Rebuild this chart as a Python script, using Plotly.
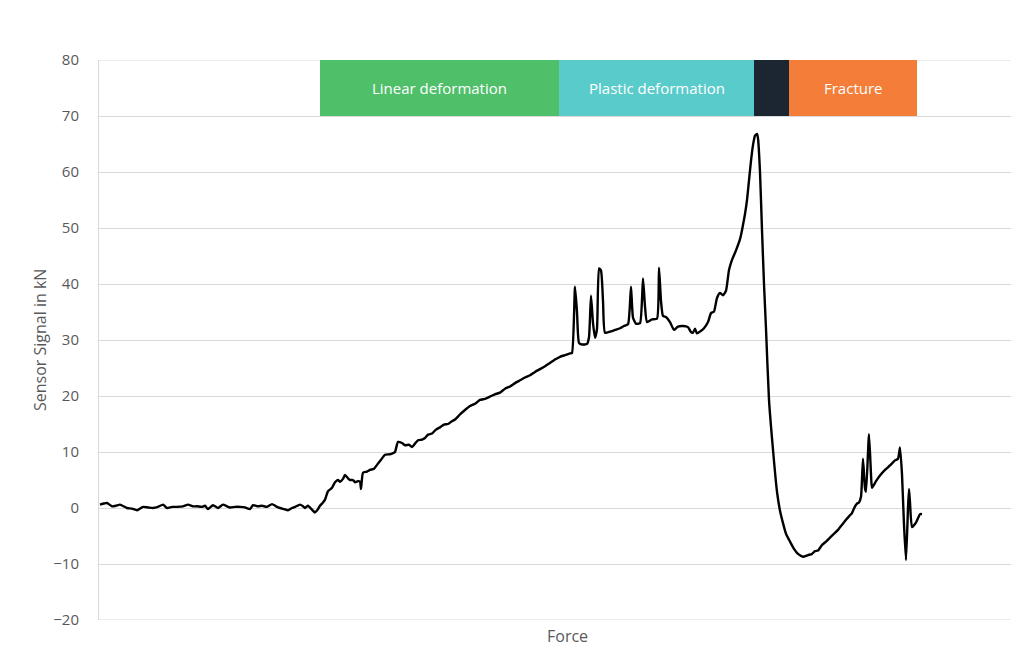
import plotly.graph_objects as go

# Force (arbitrary units) and sensor signal (kN)
force = [
    0, 4, 7, 12, 16, 20, 27, 32, 37, 43,
    48, 53, 58, 63, 67, 72, 77, 83, 88, 93,
    97, 102, 105, 108, 113, 118, 123, 127, 130, 135,
    140, 145, 150, 153, 158, 162, 167, 172, 176, 180,
    184, 188, 192, 195, 200, 203, 205, 208, 212, 215,
    218, 220, 223, 225, 228, 232, 235, 238, 240, 243,
    245, 248, 250, 253, 255, 258, 260, 261, 263, 267,
    270, 274, 277, 281, 285, 290, 293, 295, 298, 302,
    305, 309, 312, 315, 318, 322, 325, 328, 332, 336,
    340, 344, 348, 352, 355, 360, 365, 370, 375, 380,
    385, 390, 395, 400, 405, 410, 415, 420, 425, 430,
    435, 440, 445, 450, 455, 460, 465, 470, 472, 475,
    477, 479, 482, 487, 489, 491, 493, 495, 497, 499,
    501, 503, 505, 510, 515, 520, 524, 528, 531, 533,
    536, 540, 543, 545, 547, 552, 557, 559, 561, 563,
    566, 570, 574, 578, 583, 588, 591, 593, 595, 597,
    600, 604, 608, 611, 614, 617, 620, 623, 626, 629,
    632, 636, 640, 642, 645, 647, 649, 651, 653, 655,
    657, 658, 660, 662, 664, 666, 669, 673, 677, 680,
    683, 686, 690, 694, 698, 703, 708, 712, 715, 718,
    722, 726, 730, 734, 738, 742, 746, 750, 752, 755,
    757, 759, 761, 763, 765, 766, 769, 771, 772, 776,
    780, 785, 790, 795, 798, 800, 802, 804, 806, 808,
    809, 810, 812, 816, 820, 822,
]
signal = [
    0.6, 0.8, 0.9, 0.3, 0.4, 0.6, 0.0, -0.1, -0.4, 0.2,
    0.1, 0.0, 0.2, 0.6, 0.0, 0.2, 0.2, 0.3, 0.6, 0.3,
    0.3, 0.2, 0.4, -0.2, 0.5, 0.0, 0.6, 0.3, 0.1, 0.2,
    0.2, 0.1, -0.2, 0.5, 0.3, 0.4, 0.2, 0.7, 0.3, 0.0,
    -0.2, -0.4, 0.0, 0.2, 0.6, 0.3, 0.0, 0.4, -0.3, -0.8,
    -0.2, 0.4, 1.0, 1.5, 3.0, 3.6, 4.6, 5.0, 4.7, 5.2,
    5.9, 5.3, 5.0, 5.0, 4.6, 4.8, 4.7, 3.4, 6.3, 6.5,
    6.8, 7.0, 7.7, 8.6, 9.5, 9.6, 9.8, 10.0, 11.8, 11.6,
    11.2, 11.3, 10.9, 11.5, 12.1, 12.2, 12.5, 13.1, 13.3, 14.0,
    14.4, 14.9, 15.0, 15.5, 15.8, 16.7, 17.5, 18.2, 18.6, 19.3,
    19.5, 19.9, 20.3, 20.6, 21.3, 21.7, 22.3, 22.8, 23.3, 23.7,
    24.3, 24.8, 25.3, 25.9, 26.5, 27.0, 27.3, 27.6, 27.7, 39.5,
    35.0, 29.5, 29.2, 29.3, 30.5, 37.9, 33.0, 30.4, 32.0, 42.8,
    42.4, 37.0, 31.3, 31.5, 31.8, 32.1, 32.5, 32.8, 39.5, 34.0,
    32.9, 33.0, 41.0, 36.0, 33.2, 33.7, 33.8, 42.9, 37.0, 34.3,
    34.1, 33.2, 31.8, 32.4, 32.5, 32.3, 31.4, 31.3, 32.0, 31.2,
    31.5, 32.1, 33.2, 34.8, 35.1, 37.5, 38.4, 38.0, 38.8, 42.5,
    44.3, 46.0, 48.0, 49.6, 52.5, 55.0, 58.5, 62.0, 64.8, 66.5,
    66.8, 66.0, 60.0, 49.6, 40.0, 32.0, 19.3, 10.4, 2.9, -0.5,
    -2.7, -4.6, -6.0, -7.3, -8.2, -8.7, -8.4, -8.2, -7.7, -7.6,
    -6.6, -6.0, -5.3, -4.6, -3.9, -3.0, -2.1, -1.3, -0.9, 0.3,
    0.8, 1.0, 2.0, 8.8, 3.5, 2.9, 13.2, 6.0, 3.6, 4.8,
    5.8, 6.8, 7.6, 8.5, 8.8, 10.8, 6.0, -3.0, -9.3, 0.0,
    3.4, 1.0, -3.4, -2.6, -1.1, -1.1,
]

# Phase bands shown across the top of the chart
phase_names = ["Linear deformation", "Plastic deformation", "", "Fracture"]
phase_start = [220, 459, 654, 689]
phase_end = [459, 654, 689, 817]
phase_colors = ["#4FBF6A", "#5ACBCB", "#1B2632", "#F47D3A"]
band_low, band_high = 70, 80

y_min, y_max = -20, 80
y_ticks = [-20, -10, 0, 10, 20, 30, 40, 50, 60, 70, 80]

fig = go.Figure()
fig.add_trace(go.Scatter(
    x=force, y=signal, mode="lines",
    line=dict(color="black", width=2.4, shape="spline", smoothing=0.5),
    showlegend=False, hoverinfo="skip",
))

shapes = []
annotations = []
# edge gridlines (top and bottom of the value range)
for yv in (y_min, y_max):
    shapes.append(dict(type="line", xref="paper", yref="y", x0=0, x1=1,
                       y0=yv, y1=yv, line=dict(color="#D9D9D9", width=1),
                       layer="below"))
for name, x0, x1, col in zip(phase_names, phase_start, phase_end, phase_colors):
    shapes.append(dict(type="rect", xref="x", yref="y", x0=x0, x1=x1,
                       y0=band_low, y1=band_high, fillcolor=col,
                       line=dict(width=0), layer="above"))
    if name:
        annotations.append(dict(x=(x0 + x1) / 2, y=(band_low + band_high) / 2,
                                xref="x", yref="y", text=name, showarrow=False,
                                font=dict(family="Open Sans", size=15, color="white")))

annotations.append(dict(text="Sensor Signal in kN", xref="paper", yref="paper",
                        x=-0.0643, y=0.5, textangle=-90, showarrow=False,
                        xanchor="center", yanchor="middle",
                        font=dict(family="Open Sans", size=16, color="#595959")))
annotations.append(dict(text="Force", xref="paper", yref="paper",
                        x=0.5104, y=-0.0286, showarrow=False,
                        xanchor="center", yanchor="middle",
                        font=dict(family="Open Sans", size=16, color="#595959")))

fig.update_layout(
    width=1010, height=648,
    margin=dict(l=91, r=2, t=52, b=36),
    paper_bgcolor="white", plot_bgcolor="white",
    shapes=shapes, annotations=annotations,
    xaxis=dict(range=[-1, 916], showgrid=False, showticklabels=False,
               zeroline=False, showline=False, ticks=""),
    yaxis=dict(range=[y_min, y_max], tickvals=y_ticks, showgrid=True,
               gridcolor="#D9D9D9", gridwidth=1, zeroline=False,
               showline=True, linecolor="#D9D9D9", linewidth=1,
               ticks="", ticklabelstandoff=16,
               tickfont=dict(family="Open Sans", size=15, color="#595959")),
)

fig.write_html("out.html")
